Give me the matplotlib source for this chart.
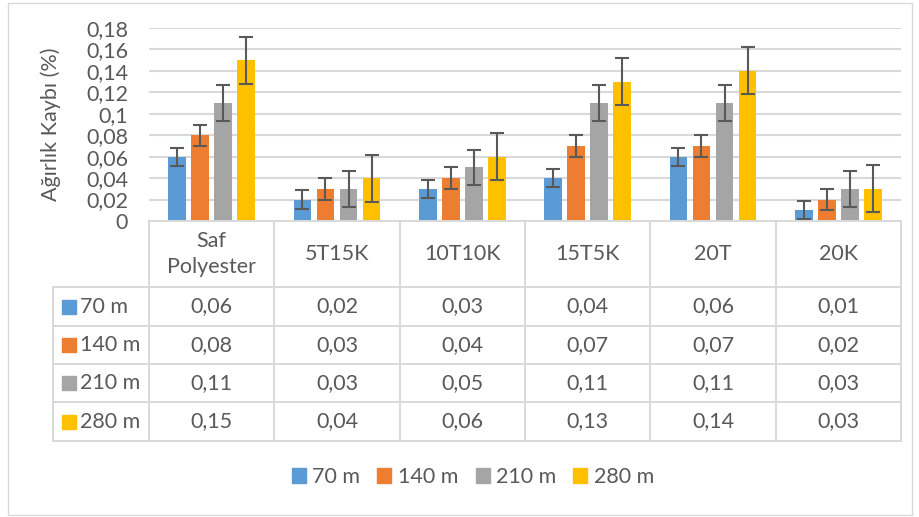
import numpy as np
import matplotlib.pyplot as plt
from matplotlib.patches import Patch, Rectangle
from matplotlib.ticker import FuncFormatter

plt.rcParams['font.family'] = ['Lato', 'DejaVu Sans']

# Veriler
categories = ['Saf\nPolyester', '5T15K', '10T10K', '15T5K', '20T', '20K']
series = ['70 m', '140 m', '210 m', '280 m']
v70 = [0.06, 0.02, 0.03, 0.04, 0.06, 0.01]
v140 = [0.08, 0.03, 0.04, 0.07, 0.07, 0.02]
v210 = [0.11, 0.03, 0.05, 0.11, 0.11, 0.03]
v280 = [0.15, 0.04, 0.06, 0.13, 0.14, 0.03]
errors = [0.0085, 0.01, 0.0165, 0.022]
values = [v70, v140, v210, v280]
colors = ['#5B9BD5', '#ED7D31', '#A5A5A5', '#FFC000']

txt = '#595959'
line_c = '#D9D9D9'
fs = 15.5
W, H = 920, 517

fig = plt.figure(figsize=(9.2, 5.17), dpi=100)

# Dis cerceve
fig.patches.append(Rectangle((8 / W, 2 / H), 904 / W, 512 / H, transform=fig.transFigure,
                             fill=False, edgecolor=line_c, lw=1))

# Grafik alani
ax = fig.add_axes([149 / W, 1 - 221 / H, 752 / W, 193 / H])
x = np.arange(len(categories))
bw = 0.141
step = 0.184
for i, (vals, col, err) in enumerate(zip(values, colors, errors)):
    pos = x + (i - 1.5) * step
    ax.bar(pos, vals, width=bw, color=col, zorder=3)
    ax.errorbar(pos, vals, yerr=err, fmt='none', ecolor='#595959', elinewidth=1.5,
                capsize=5.2, capthick=1.5, zorder=4)

ax.set_xlim(-0.5, len(categories) - 0.5)
ax.set_ylim(0, 0.18)
ax.set_yticks(np.arange(0, 0.181, 0.02))
ax.yaxis.set_major_formatter(FuncFormatter(lambda v, p: f"{round(v, 2):g}".replace('.', ',')))
ax.tick_params(axis='y', length=0, pad=15, labelsize=fs, labelcolor=txt)
ax.set_xticks([])
ax.grid(axis='y', color=line_c, lw=1.5, zorder=0)
for s in ax.spines.values():
    s.set_visible(False)
ax.set_ylabel('Ağırlık Kaybı (%)', fontsize=fs, color=txt)
ax.yaxis.set_label_coords(-0.117, 0.5)

# Veri tablosu
tab = fig.add_axes([149 / W, 1 - 441 / H, 752 / W, 220 / H])
tab.set_xlim(-0.5, len(categories) - 0.5)
tab.set_ylim(441, 221)
tab.axis('off')
rows = [221, 287, 326, 364, 402, 441]
left = -0.5 - 96 / 125.33
kw = dict(color=line_c, lw=1.4, clip_on=False)
tab.plot([-0.5, 5.5], [rows[0], rows[0]], **kw)
for r in rows[1:]:
    tab.plot([left, 5.5], [r, r], **kw)
for c in np.arange(-0.5, 5.6, 1):
    tab.plot([c, c], [rows[0], rows[-1]], **kw)
tab.plot([left, left], [rows[1], rows[-1]], **kw)

for j, cat in enumerate(categories):
    tab.text(j, (rows[0] + rows[1]) / 2, cat, ha='center', va='center', fontsize=fs,
             color=txt, linespacing=1.4)
for i, (name, vals, col) in enumerate(zip(series, values, colors)):
    yc = (rows[i + 1] + rows[i + 2]) / 2
    tab.add_patch(Rectangle((left + 9 / 125.33, yc - 7), 14 / 125.33, 14, color=col,
                            clip_on=False))
    tab.text(left + 27 / 125.33, yc, name, ha='left', va='center', fontsize=fs, color=txt,
             clip_on=False)
    for j, v in enumerate(vals):
        tab.text(j, yc, f"{v:.2f}".replace('.', ','), ha='center', va='center',
                 fontsize=fs, color=txt)

# Alt lejant
handles = [Patch(color=c) for c in colors]
fig.legend(handles, series, loc='center', bbox_to_anchor=(473 / W, 1 - 477 / H), ncol=4,
           frameon=False, fontsize=fs, labelcolor=txt, handlelength=0.65, handleheight=0.65,
           handletextpad=0.3, columnspacing=0.8)

fig.savefig('out.png', dpi=100)
